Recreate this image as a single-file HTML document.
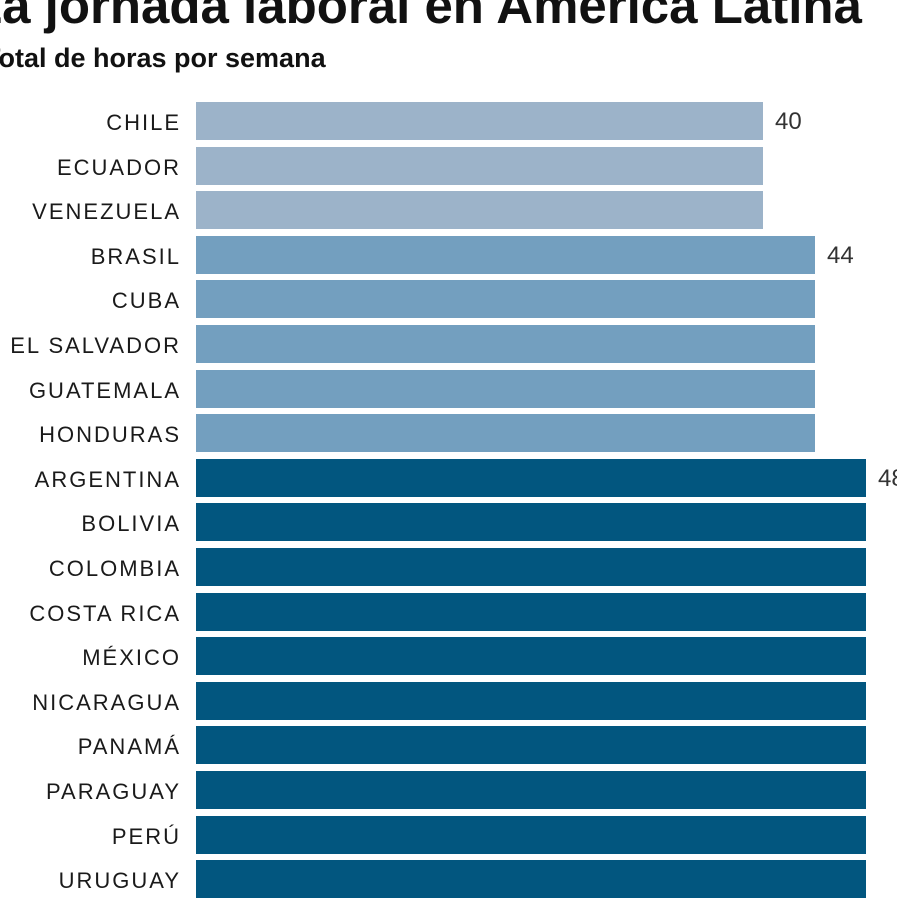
<!DOCTYPE html>
<html><head><meta charset="utf-8"><style>
html,body{margin:0;padding:0;background:#fff;width:897px;height:921px;overflow:hidden;position:relative;font-family:"Liberation Sans",sans-serif}
.t{position:absolute;white-space:nowrap;color:#111}
.lab{position:absolute;right:716px;font-size:22px;letter-spacing:2px;color:#1a1a1a;white-space:nowrap}
.bar{position:absolute;left:196px;height:38px}
.v{position:absolute;font-size:24px;color:#333}
</style></head><body>
<div class="t" style="left:-29px;top:-24px;font-size:51px;font-weight:bold;">La jornada laboral en América Latina</div>
<div class="t" style="left:-16px;top:43px;font-size:27px;font-weight:bold;">Total de horas por semana</div>
<div id="c"></div>
<script>
var rows=[["CHILE",40],["ECUADOR",40],["VENEZUELA",40],["BRASIL",44],["CUBA",44],["EL SALVADOR",44],["GUATEMALA",44],["HONDURAS",44],["ARGENTINA",48],["BOLIVIA",48],["COLOMBIA",48],["COSTA RICA",48],["MÉXICO",48],["NICARAGUA",48],["PANAMÁ",48],["PARAGUAY",48],["PERÚ",48],["URUGUAY",48]];
var h="";
rows.forEach(function(r,i){
 var y=102+i*44.6;
 var w=r[1]==40?567:(r[1]==44?619:670);
 var c=r[1]==40?"#9cb3c9":(r[1]==44?"#739fbf":"#02567f");
 h+='<div class="lab" style="top:'+(y+8)+'px">'+r[0]+'</div>';
 h+='<div class="bar" style="top:'+y+'px;width:'+w+'px;background:'+c+'"></div>';
 if(i==0||i==3||i==8) h+='<div class="v" style="left:'+(196+w+12)+'px;top:'+(y+6)+'px">'+r[1]+'</div>';
});
document.getElementById("c").innerHTML=h;
</script>
</body></html>
